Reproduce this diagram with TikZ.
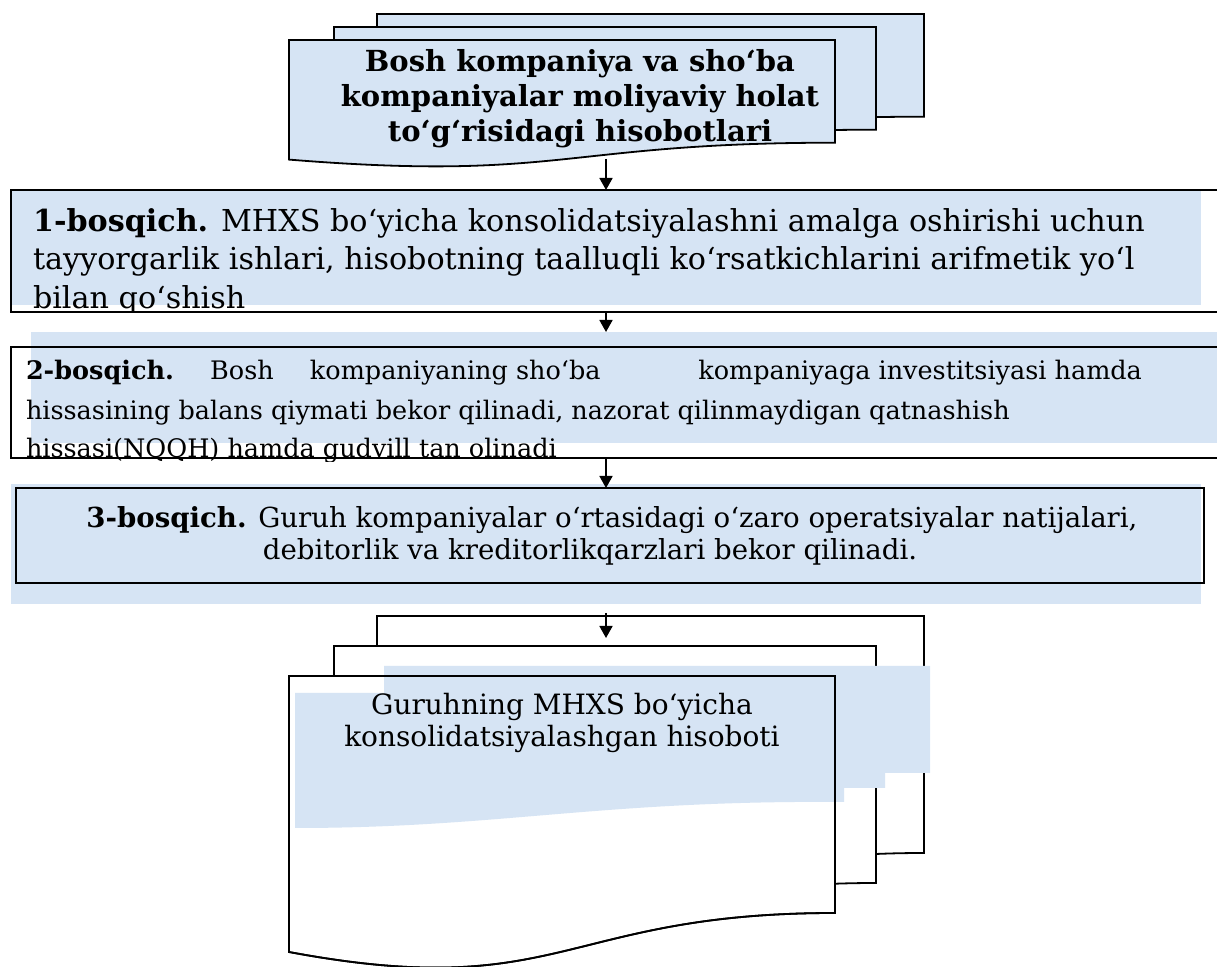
\documentclass[tikz,border=0pt]{standalone}
\usepackage{fontspec}
\setmainfont{DejaVu Serif}
\usetikzlibrary{arrows.meta,calc,positioning}
\definecolor{tissue}{RGB}{214,228,244}
\tikzset{
    paper/.style={draw=black, line width=0.9pt, fill=tissue},
    blank/.style={draw=black, line width=0.9pt, fill=white},
    stepbox/.style={draw=black, line width=1pt, inner sep=0pt, outer sep=0pt},
    band/.style={fill=tissue, inner sep=0pt, outer sep=0pt},
    txt/.style={inner sep=0pt, outer sep=0pt},
    arr/.style={-{Triangle[length=6pt,width=6.5pt]}, line width=0.9pt}
}
\newcommand{\topfont}{\fontsize{14.5pt}{17pt}\selectfont\bfseries}
\newcommand{\onefont}{\fontsize{15.1pt}{19pt}\selectfont}
\newcommand{\twofont}{\fontsize{12.75pt}{19pt}\selectfont}
\newcommand{\threefont}{\fontsize{13.8pt}{16pt}\selectfont}
\newcommand{\resfont}{\fontsize{14pt}{16pt}\selectfont}

\begin{document}
\begin{tikzpicture}[x=0.5pt, y=-0.5pt]
\useasboundingbox (0,0) rectangle (1217,967);

% source reports, three stacked sheets
\draw[paper] (377,14) -- (924,14) -- (924,116.7) .. controls (650,116.7) and (650,155.7) .. (377,133.6) -- cycle;
\draw[paper] (334,27) -- (876,27) -- (876,129.7) .. controls (605,129.7) and (605,168.7) .. (334,146.6) -- cycle;
\draw[paper] (289,40) -- (835,40) -- (835,142.7) .. controls (562,142.7) and (562,181.7) .. (289,159.6) -- cycle;
\begin{scope}
    \clip (289,40) -- (835,40) -- (835,142.7) .. controls (562,142.7) and (562,181.7) .. (289,159.6) -- cycle;
    \node[txt, anchor=base, font=\topfont] (src1) at (580,72) {Bosh kompaniya va sho‘ba};
    \node[txt, anchor=base, font=\topfont] (src2) at (580,107) {kompaniyalar moliyaviy holat};
    \node[txt, anchor=base, font=\topfont] (src3) at (580,142) {to‘g‘risidagi hisobotlari};
\end{scope}

% stage 1
\node[band, minimum width=595pt, minimum height=57.5pt] (f1) at (605.5,247.5) {};
\node[stepbox, minimum width=610pt, minimum height=61pt] (s1) at (621,251) {};
\begin{scope}
    \clip (0,0) rectangle (1217,312);
    \node[txt, anchor=base west, font=\onefont] (one1) at (33,232) {\textbf{1-bosqich.} MHXS bo‘yicha konsolidatsiyalashni amalga oshirishi uchun};
    \node[txt, anchor=base west, font=\onefont] (one2) at (33,270) {tayyorgarlik ishlari, hisobotning taalluqli ko‘rsatkichlarini arifmetik yo‘l};
    \node[txt, anchor=base west, font=\onefont] (one3) at (33,309) {bilan qo‘shish};
\end{scope}

% stage 2
\node[band, minimum width=599.5pt, minimum height=55.5pt] (f2) at (630.5,387.5) {};
\node[stepbox, minimum width=610pt, minimum height=55.5pt] (s2) at (621,402.5) {};
\begin{scope}
    \clip (0,0) rectangle (1217,462);
    \node[txt, anchor=base west, font=\twofont] (two1) at (26,380) {\makebox[558pt][s]{\textbf{2-bosqich.}\hspace{0pt plus 1fil}Bosh\hspace{0pt plus 1fil}kompaniyaning sho‘ba\hspace{0pt plus 2.7fil}kompaniyaga investitsiyasi hamda}};
    \node[txt, anchor=base west, font=\twofont] (two2) at (26,420) {hissasining balans qiymati bekor qilinadi, nazorat qilinmaydigan qatnashish};
    \node[txt, anchor=base west, font=\twofont] (two3) at (26,458) {hissasi(NQQH) hamda gudvill tan olinadi};
\end{scope}

% stage 3
\node[band, minimum width=595pt, minimum height=60pt] (f3) at (606,544) {};
\node[stepbox, minimum width=594pt, minimum height=47.5pt] (s3) at (610,535.5) {};
\node[txt, anchor=base, font=\threefont] (three1) at (612,528) {\textbf{3-bosqich.} Guruh kompaniyalar o‘rtasidagi o‘zaro operatsiyalar natijalari,};
\node[txt, anchor=base, font=\threefont] (three2) at (590,560) {debitorlik va kreditorlikqarzlari bekor qilinadi.};

% consolidated report, three stacked sheets
\draw[blank] (377,616) -- (924,616) -- (924,853) .. controls (650,853) and (650,943) .. (377,892) -- cycle;
\draw[blank] (334,646) -- (876,646) -- (876,883) .. controls (605,883) and (605,973) .. (334,922) -- cycle;
\draw[blank] (289,676) -- (835,676) -- (835,913) .. controls (562,913) and (562,1003) .. (289,952) -- cycle;
\fill[tissue] (295,693) -- (384,693) -- (384,666) -- (930,666) -- (930,773) -- (885,773) -- (885,788)
    -- (844,788) -- (844,802) .. controls (600,800) and (500,828) .. (295,828) -- cycle;
\draw[line width=0.9pt] (289,676) -- (835,676) -- (835,913) .. controls (562,913) and (562,1003) .. (289,952) -- cycle;
\node[txt, anchor=base, font=\resfont] (res1) at (562,715) {Guruhning MHXS bo‘yicha};
\node[txt, anchor=base, font=\resfont] (res2) at (562,747) {konsolidatsiyalashgan hisoboti};

% arrows
\coordinate (d1) at (606,159);
\coordinate (d4) at (606,638);
\draw[arr] (d1) -- (d1 |- s1.north);
\draw[arr] (s1.south -| d1) -- (d1 |- f2.north);
\draw[arr] (s2.south -| d1) -- (d1 |- s3.north);
\draw[arr] ($(d1 |- f3.south)+(0,9)$) -- (d4);
\end{tikzpicture}
\end{document}
